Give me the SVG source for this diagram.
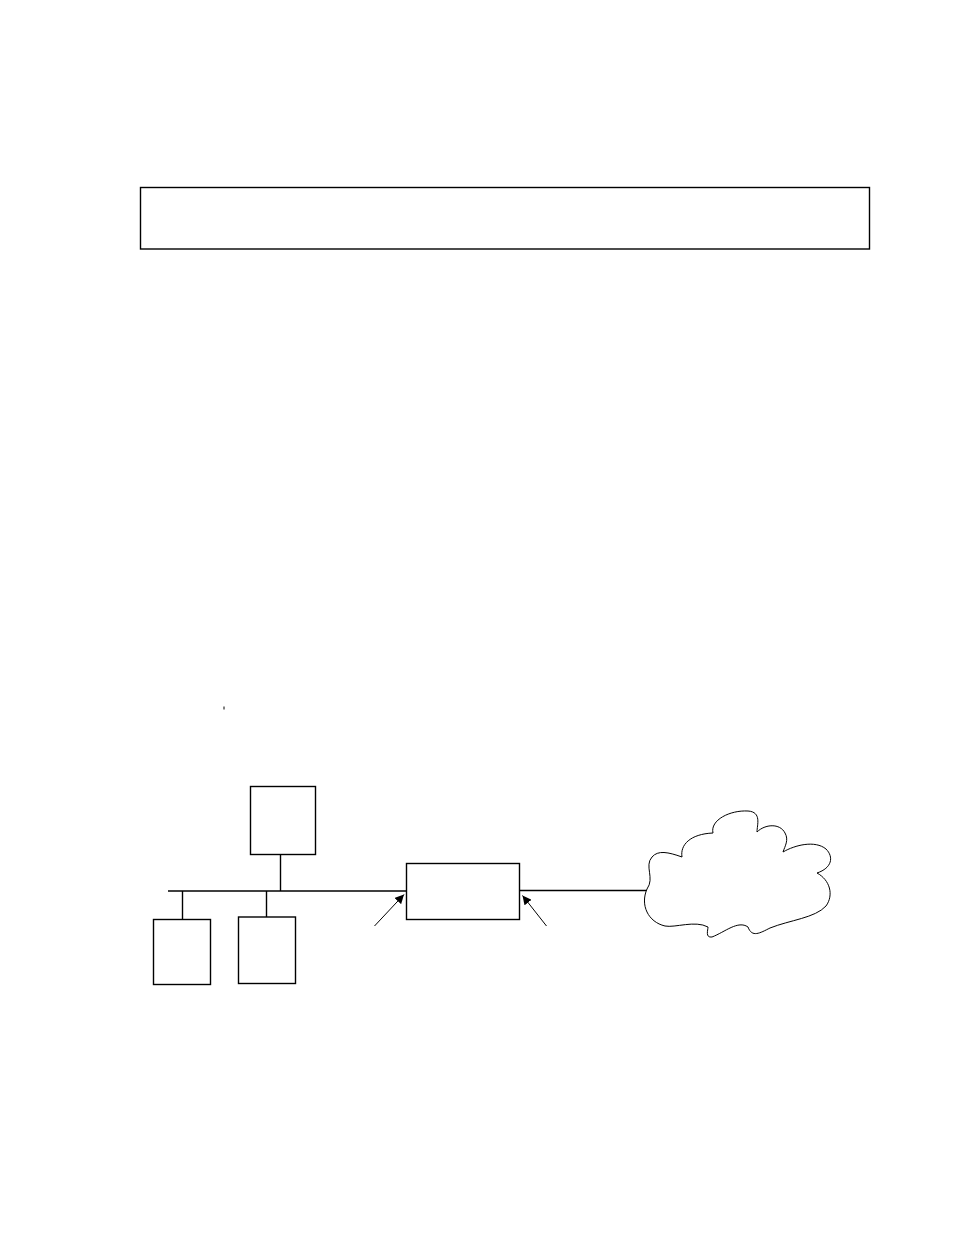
<svg xmlns="http://www.w3.org/2000/svg" width="954" height="1235" viewBox="0 0 954 1235">
<style>
.box{fill:#fff;stroke:#000;stroke-width:1.4}
.ln{fill:none;stroke:#000;stroke-width:1.4}
.ar{fill:none;stroke:#000;stroke-width:1}
.cloud{fill:#fff;stroke:#000;stroke-width:1}
</style>
<defs>
<marker id="ah" viewBox="0 0 10 10" refX="10" refY="5" markerWidth="9" markerHeight="9" markerUnits="userSpaceOnUse" orient="auto">
<path d="M0,0 L10,5 L0,10 Z" fill="#000"/>
</marker>
</defs>
<rect width="954" height="1235" fill="#fff"/>
<g id="header">
<rect class="box" x="140.5" y="187.5" width="729" height="61.5"/>
</g>
<line x1="224" y1="706.5" x2="224" y2="709.5" stroke="#000" stroke-width="1"/>
<g id="connectors">
<line class="ln" x1="168" y1="891" x2="406.5" y2="891"/>
<line class="ln" x1="280.5" y1="854" x2="280.5" y2="891"/>
<line class="ln" x1="182.5" y1="891" x2="182.5" y2="919"/>
<line class="ln" x1="266.5" y1="891" x2="266.5" y2="917"/>
<line class="ln" x1="519.5" y1="890.5" x2="647" y2="890.5"/>
<line class="ar" x1="374.5" y1="926" x2="404" y2="894.5" marker-end="url(#ah)"/>
<line class="ar" x1="546.5" y1="926" x2="522.5" y2="895.5" marker-end="url(#ah)"/>
</g>
<g id="node-top">
<rect class="box" x="250.5" y="786.5" width="65" height="68"/>
</g>
<g id="node-left">
<rect class="box" x="153.5" y="919.5" width="57" height="65"/>
</g>
<g id="node-middle">
<rect class="box" x="238.5" y="917" width="57" height="66.5"/>
</g>
<g id="node-router">
<rect class="box" x="406.5" y="863.5" width="113" height="56"/>
</g>
<g id="node-cloud">
<path class="cloud" d="M 647,889 C 655,878 644,866 652,857 C 658,850 668,852 682,857 C 680,845 690,834 713,833 C 710,820 730,810 748,811 C 762,812 757,825 757,832 C 765,824 780,823 785,833 C 789,840 785,846 783,852 C 795,845 815,840 826,849 C 834,857 832,868 817,873 C 830,880 834,895 826,906 C 815,918 790,920 770,928 C 760,933 752,938 748,927 C 738,920 725,932 712,937 C 705,938 708,930 708,927 C 695,920 675,928 665,926 C 648,922 640,905 647,889 Z"/>
</g>
</svg>
